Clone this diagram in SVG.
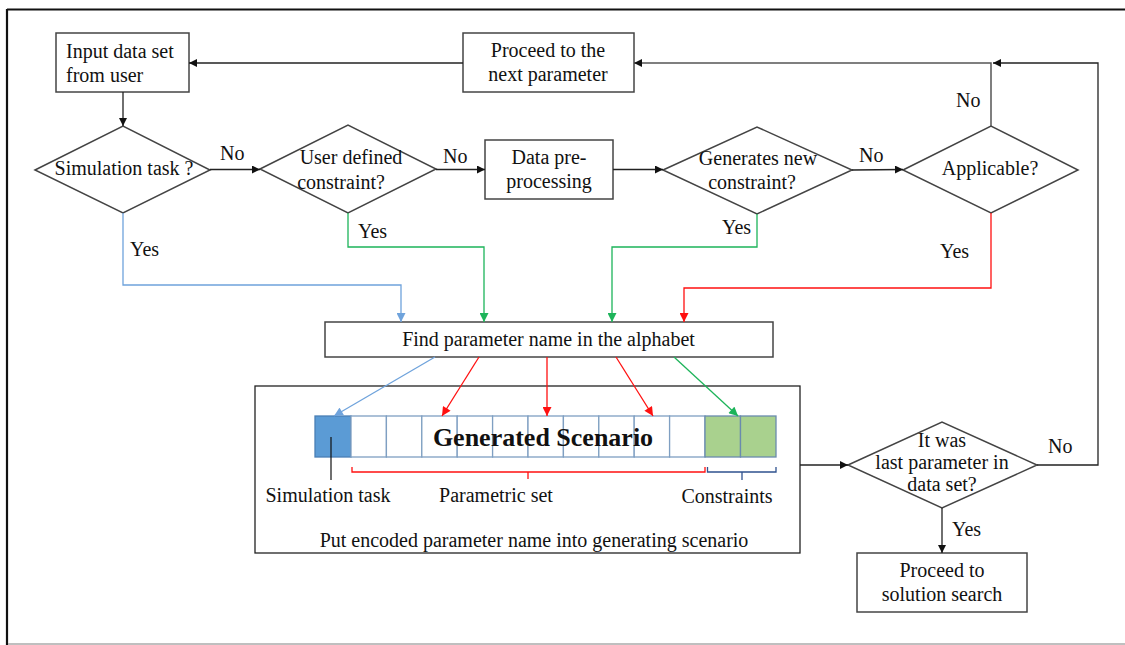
<svg xmlns="http://www.w3.org/2000/svg" width="1125" height="645" viewBox="0 0 1125 645">
  <style>
    text { font-family: "Liberation Serif", Tinos, "Times New Roman", "Nimbus Roman", "DejaVu Serif", serif; font-size: 20px; fill: #111; }
    .c { text-anchor: middle; }
    .shape { fill: #fff; stroke: #444; stroke-width: 1.5; }
    .ln { fill: none; stroke: #222; stroke-width: 1.3; }
    .gray { fill: none; stroke: #555; stroke-width: 1.5; }
    .blue { fill: none; stroke: #6FA3DC; stroke-width: 1.3; }
    .green { fill: none; stroke: #1DB45A; stroke-width: 1.3; }
    .red { fill: none; stroke: #FF1010; stroke-width: 1.3; }
    .cell { fill: #fff; stroke: #7F9FC2; stroke-width: 1.3; }
    .cell-sim { fill: #5B9BD5; stroke: #4A7FB5; stroke-width: 1.3; }
    .cell-con { fill: #A9D18E; stroke: #6A8BAE; stroke-width: 1.3; }
  </style>
  <defs>
    <marker id="ah-black" viewBox="0 0 10 10" refX="10" refY="5" markerWidth="9" markerHeight="8" markerUnits="userSpaceOnUse" orient="auto">
      <path d="M0,0 L10,5 L0,10 z" fill="#111"/>
    </marker>
    <marker id="ah-blue" viewBox="0 0 10 10" refX="10" refY="5" markerWidth="10" markerHeight="9" markerUnits="userSpaceOnUse" orient="auto">
      <path d="M0,0 L10,5 L0,10 z" fill="#6FA3DC"/>
    </marker>
    <marker id="ah-green" viewBox="0 0 10 10" refX="10" refY="5" markerWidth="10" markerHeight="9" markerUnits="userSpaceOnUse" orient="auto">
      <path d="M0,0 L10,5 L0,10 z" fill="#1DB45A"/>
    </marker>
    <marker id="ah-red" viewBox="0 0 10 10" refX="10" refY="5" markerWidth="10" markerHeight="9" markerUnits="userSpaceOnUse" orient="auto">
      <path d="M0,0 L10,5 L0,10 z" fill="#FF1010"/>
    </marker>
  </defs>

  <rect width="1125" height="645" fill="#fff"/>

  <!-- page frame -->
  <g id="frame">
    <line x1="7" y1="9.5" x2="1125" y2="9.5" stroke="#111" stroke-width="1.8"/>
    <line x1="7" y1="9" x2="7" y2="645" stroke="#111" stroke-width="2.2"/>
    <line x1="8" y1="644" x2="1125" y2="644" stroke="#aaa" stroke-width="1.5"/>
  </g>

  <g id="input-data">
    <rect class="shape" x="56" y="33" width="133" height="59"/>
    <text x="66" y="58">Input data set</text>
    <text x="66" y="82">from user</text>
  </g>

  <g id="next-parameter">
    <rect class="shape" x="463" y="33" width="171" height="59"/>
    <text class="c" x="548" y="57">Proceed to the</text>
    <text class="c" x="548" y="81">next parameter</text>
  </g>

  <g id="simulation-task">
    <polygon class="shape" points="35,170 123,126 210,170 123,213"/>
    <text class="c" x="124" y="175">Simulation task ?</text>
  </g>

  <g id="user-constraint">
    <polygon class="shape" points="260,169 348,125 436,169 348,213"/>
    <text class="c" x="351" y="164">User defined</text>
    <text class="c" x="341" y="189">constraint?</text>
  </g>

  <g id="pre-processing">
    <rect class="shape" x="485" y="140" width="128" height="59"/>
    <text class="c" x="549" y="164">Data pre-</text>
    <text class="c" x="549" y="188">processing</text>
  </g>

  <g id="new-constraint">
    <polygon class="shape" points="663,170 757,127 852,170 757,214"/>
    <text class="c" x="758" y="165">Generates new</text>
    <text class="c" x="752" y="189">constraint?</text>
  </g>

  <g id="applicable">
    <polygon class="shape" points="903,170 991,126 1078,170 991,213"/>
    <text class="c" x="990" y="175">Applicable?</text>
  </g>

  <g id="find-parameter">
    <rect class="shape" x="325" y="322" width="448" height="35"/>
    <text class="c" x="548.5" y="346">Find parameter name in the alphabet</text>
  </g>

  <g id="generating-scenario">
    <rect x="255" y="386" width="545" height="167" fill="#fff" stroke="#222" stroke-width="1.3"/>
    <!-- encoded scenario cells -->
    <rect class="cell-sim" x="315" y="416" width="36" height="41"/>
    <rect class="cell" x="351" y="416" width="35.4" height="41"/>
    <rect class="cell" x="386.4" y="416" width="35.4" height="41"/>
    <rect class="cell" x="421.8" y="416" width="35.4" height="41"/>
    <rect class="cell" x="457.2" y="416" width="35.4" height="41"/>
    <rect class="cell" x="492.6" y="416" width="35.4" height="41"/>
    <rect class="cell" x="528" y="416" width="35.4" height="41"/>
    <rect class="cell" x="563.4" y="416" width="35.4" height="41"/>
    <rect class="cell" x="598.8" y="416" width="35.4" height="41"/>
    <rect class="cell" x="634.2" y="416" width="35.4" height="41"/>
    <rect class="cell" x="669.6" y="416" width="35.4" height="41"/>
    <rect class="cell-con" x="705" y="416" width="35.5" height="41"/>
    <rect class="cell-con" x="740.5" y="416" width="35.5" height="41"/>
    <text class="c" x="543" y="446" style="font-weight:bold;font-size:26px">Generated Scenario</text>

    <line x1="331" y1="437" x2="331" y2="480" stroke="#111" stroke-width="1.2"/>
    <path class="red" d="M352,467 V472 H705 V467 M528,472 V479"/>
    <path d="M707.5,467 V472 H776 V467 M742,472 V480" fill="none" stroke="#2F528F" stroke-width="1.3"/>

    <text class="c" x="328" y="502">Simulation task</text>
    <text class="c" x="496" y="502">Parametric set</text>
    <text class="c" x="727" y="503">Constraints</text>
    <text class="c" x="534" y="547">Put encoded parameter name into generating scenario</text>
  </g>

  <g id="last-parameter">
    <polygon class="shape" points="848,465 942,422 1037,465 942,508"/>
    <text class="c" x="942" y="447">It was</text>
    <text class="c" x="942" y="469">last parameter in</text>
    <text class="c" x="942" y="491">data set?</text>
  </g>

  <g id="solution-search">
    <rect class="shape" x="857" y="553" width="170" height="59"/>
    <text class="c" x="942" y="577">Proceed to</text>
    <text class="c" x="942" y="601">solution search</text>
  </g>

  <!-- connectors, drawn last so they sit on top of the boxes -->
  <g id="connectors">
    <line class="ln" x1="123" y1="92" x2="123" y2="126" marker-end="url(#ah-black)"/>
    <line class="ln" x1="210" y1="169.5" x2="260" y2="169.5" marker-end="url(#ah-black)"/>
    <line class="ln" x1="436" y1="169.5" x2="485" y2="169.5" marker-end="url(#ah-black)"/>
    <line class="ln" x1="613" y1="169.5" x2="663" y2="169.5" marker-end="url(#ah-black)"/>
    <line class="ln" x1="852" y1="170" x2="903" y2="169.5" marker-end="url(#ah-black)"/>
    <polyline class="gray" points="991,126 991,63 634,63" marker-end="url(#ah-black)"/>
    <polyline class="ln" points="1037,465 1098,465 1098,63 993,63" marker-end="url(#ah-black)"/>
    <line class="ln" x1="463" y1="63" x2="189" y2="63" marker-end="url(#ah-black)"/>
    <line class="ln" x1="800" y1="465" x2="848" y2="465" marker-end="url(#ah-black)"/>
    <line class="ln" x1="942" y1="508" x2="942" y2="553" marker-end="url(#ah-black)"/>

    <polyline class="blue" points="123,213 123,285 401,285 401,322" marker-end="url(#ah-blue)"/>
    <polyline class="green" points="348,213 348,247 484,247 484,322" marker-end="url(#ah-green)"/>
    <polyline class="green" points="757,214 757,247 612,247 612,322" marker-end="url(#ah-green)"/>
    <polyline class="red" points="991,213 991,288 684,288 684,322" marker-end="url(#ah-red)"/>

    <line class="blue" x1="435" y1="357" x2="334" y2="416" marker-end="url(#ah-blue)"/>
    <line class="red" x1="479" y1="357" x2="442" y2="416" marker-end="url(#ah-red)"/>
    <line class="red" x1="547" y1="357" x2="547" y2="416" marker-end="url(#ah-red)"/>
    <line class="red" x1="616" y1="357" x2="653" y2="416" marker-end="url(#ah-red)"/>
    <line class="green" x1="674" y1="357" x2="738" y2="416" marker-end="url(#ah-green)"/>

    <text x="220" y="160">No</text>
    <text x="443" y="163">No</text>
    <text x="859" y="162">No</text>
    <text x="956" y="107">No</text>
    <text x="1048" y="453">No</text>
    <text x="130" y="256">Yes</text>
    <text x="358" y="238">Yes</text>
    <text x="722" y="234">Yes</text>
    <text x="940" y="258">Yes</text>
    <text x="952" y="536">Yes</text>
  </g>
</svg>
